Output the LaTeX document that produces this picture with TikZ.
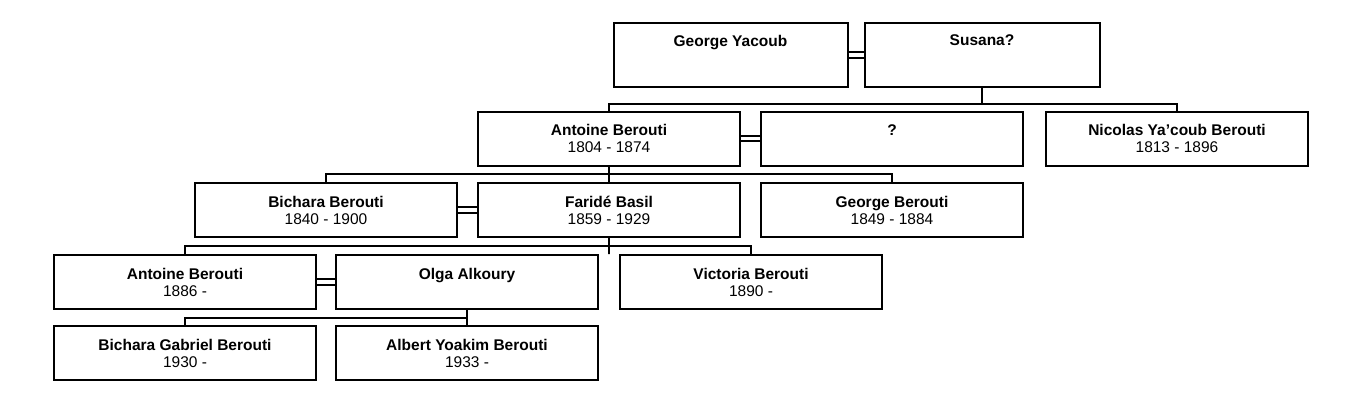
\documentclass[tikz,border=0pt]{standalone}
\usepackage{fontspec}
\setmainfont{Liberation Sans}
\usetikzlibrary{positioning}

\begin{document}
\begin{tikzpicture}[x=1pt, y=-1pt, line width=2pt,
    person/.style={shape=rectangle, draw=black, minimum width=262pt, minimum height=54pt, align=center, inner sep=0pt, font=\fontsize{15.5}{17}\selectfont},
    marriage/.style={double, double distance=3.5pt, line width=1.8pt},
    link/.style={line width=2pt}]
        \useasboundingbox (0,0) rectangle (1352,416);

        % generation 1
        \node (gy) at (730.5,55) [person, minimum width=234pt, minimum height=64pt] {\textbf{George Yacoub}\\[12pt]~};
        \node (su) at (982,55) [person, minimum width=235pt, minimum height=64pt] {\textbf{Susana?}\\[12pt]~};

        % generation 2
        \node (ab) at (609,138.5) [person] {\textbf{Antoine Berouti}\\1804 - 1874};
        \node (q) at (892,138.5) [person] {\textbf{?}\\~};
        \node (nb) at (1177,138.5) [person] {\textbf{Nicolas Ya'coub Berouti}\\1813 - 1896};

        % generation 3
        \node (bb) at (326,210) [person] {\textbf{Bichara Berouti}\\1840 - 1900};
        \node (fb) at (609,210) [person] {\textbf{Faridé Basil}\\1859 - 1929};
        \node (gb) at (892,210) [person] {\textbf{George Berouti}\\1849 - 1884};

        % generation 4
        \node (ab2) at (185,282) [person] {\textbf{Antoine Berouti}\\1886 -};
        \node (oa) at (467,282) [person] {\textbf{Olga Alkoury}\\~};
        \node (vb) at (751,282) [person] {\textbf{Victoria Berouti}\\1890 -};

        % generation 5
        \node (bg) at (185,353) [person] {\textbf{Bichara Gabriel Berouti}\\1930 -};
        \node (ay) at (467,353) [person] {\textbf{Albert Yoakim Berouti}\\1933 -};

        % marriages
        \draw[marriage] (gy) -- (su);
        \draw[marriage] (ab) -- (q);
        \draw[marriage] (bb) -- (fb);
        \draw[marriage] (ab2) -- (oa);

        % children
        \draw[link] (su.south) -- ++(0,16) coordinate (c1);
        \draw[link] (ab.north) -- (ab.north |- c1) -- (nb.north |- c1) -- (nb.north);
        \draw[link] (ab.south) -- (ab.south |- bb.north) -- ++(0,-8) coordinate (c2);
        \draw[link] (bb.north) -- (bb.north |- c2) -- (gb.north |- c2) -- (gb.north);
        \draw[link] (fb.south) -- (fb.south |- ab2.north) -- ++(0,-8) coordinate (c3);
        \draw[link] (ab2.north) -- (ab2.north |- c3) -- (vb.north |- c3) -- (vb.north);
        \draw[link] (oa.south) -- (ay.north);
        \draw[link] (bg.north) -- ++(0,-7) coordinate (c4) -- (ay.north |- c4);
    \end{tikzpicture}
\end{document}
